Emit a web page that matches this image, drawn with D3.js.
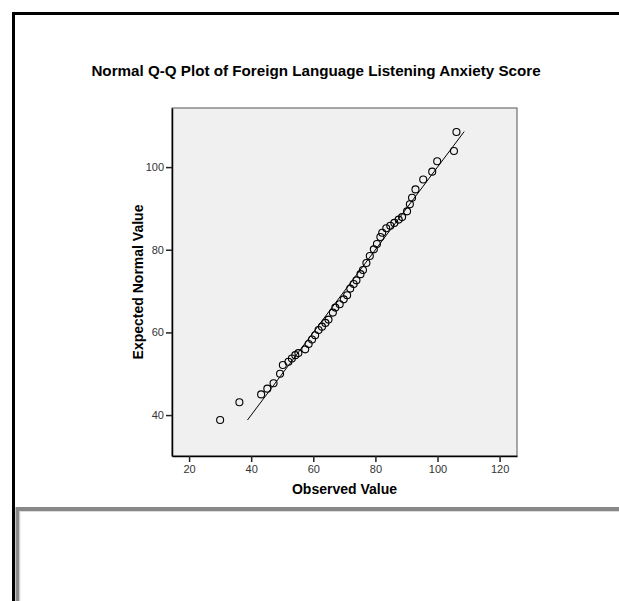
<!DOCTYPE html>
<html>
<head>
<meta charset="utf-8">
<script src="https://cdn.jsdelivr.net/npm/d3@7"></script>
<style>
    body { margin: 0; background: #fff; }
    svg { display: block; font-family: Arial, "Liberation Sans", sans-serif; }
</style>
</head>
<body>
<div id="chart"></div>
<script>
const chartTitle = "Normal Q-Q Plot of Foreign Language Listening Anxiety Score";
const xLabel = "Observed Value";
const yLabel = "Expected Normal Value";

const observedValues = [
    30.0, 36.2, 43.2, 45.2, 47.2, 49.3, 50.2, 52.0, 53.1, 54.2,
    55.2, 57.4, 58.5, 59.6, 60.6, 61.7, 62.8, 63.9, 64.9, 66.3,
    67.1, 68.5, 69.8, 70.9, 71.9, 73.0, 73.9, 75.2, 76.0, 77.1,
    78.2, 79.5, 80.5, 81.6, 82.2, 83.5, 84.8, 86.1, 87.5, 88.6,
    90.2, 91.1, 91.8, 92.9, 95.4, 98.3, 99.9, 105.3, 106.1
];
const expectedValues = [
    38.8, 43.1, 45.0, 46.4, 47.7, 50.0, 52.1, 52.9, 53.7, 54.5,
    55.0, 55.9, 57.2, 58.3, 59.3, 60.6, 61.4, 62.3, 63.1, 64.8,
    66.0, 66.8, 68.0, 69.0, 70.6, 71.7, 72.6, 74.1, 75.1, 76.8,
    78.5, 80.1, 81.4, 83.1, 84.1, 85.2, 85.8, 86.5, 87.3, 87.9,
    89.3, 91.0, 92.6, 94.6, 97.0, 98.9, 101.4, 103.9, 108.5
];
const refLine = [38.8, 108.6];

const xTicks = [20, 40, 60, 80, 100, 120];
const yTicks = [40, 60, 80, 100];

const points = observedValues.map((v, i) => ({ obs: v, exp: expectedValues[i] }));

const margin = { top: 108, left: 172 },
    width = 345,
    height = 348;

const svg = d3.select("#chart").append("svg")
    .attr("width", 619)
    .attr("height", 601);

// outer frame (black) and the lower grey panel
svg.append("path")
    .attr("d", "M13.5,601V13.5H619")
    .attr("fill", "none")
    .attr("stroke", "#000")
    .attr("stroke-width", 3);

svg.append("path")
    .attr("d", "M17.5,601V509H619")
    .attr("fill", "none")
    .attr("stroke", "#888")
    .attr("stroke-width", 4);

svg.append("path")
    .attr("d", "M20,601V511.5H619")
    .attr("fill", "none")
    .attr("stroke", "#ddd")
    .attr("stroke-width", 1);

svg.append("text")
    .attr("x", 316)
    .attr("y", 76)
    .attr("text-anchor", "middle")
    .style("font-size", "15.2px")
    .style("font-weight", "bold")
    .text(chartTitle);

const g = svg.append("g")
    .attr("transform", `translate(${margin.left},${margin.top})`);

const x = d3.scaleLinear()
    .domain([14.5, 125.6])
    .range([0, width]);

const y = d3.scaleLinear()
    .domain([30.1, 114.3])
    .range([height, 0]);

g.append("rect")
    .attr("x", 0)
    .attr("y", 0)
    .attr("width", width)
    .attr("height", height)
    .attr("fill", "#f0f0f0")
    .attr("stroke", "#555")
    .attr("stroke-width", 1);

const xAxisGroup = g.append("g")
    .attr("transform", `translate(0,${height})`)
    .call(d3.axisBottom(x).tickValues(xTicks).tickSizeInner(6).tickSizeOuter(0).tickPadding(3));

const yAxisGroup = g.append("g")
    .call(d3.axisLeft(y).tickValues(yTicks).tickSizeInner(6).tickSizeOuter(0).tickPadding(2));

[xAxisGroup, yAxisGroup].forEach(axis => {
    axis.select(".domain").attr("stroke", "#000").attr("stroke-width", 1.5);
    axis.selectAll(".tick line").attr("stroke", "#222").attr("stroke-width", 1.5);
    axis.selectAll(".tick text")
        .style("font-size", "11px")
        .style("font-family", "Arial, 'Liberation Sans', sans-serif")
        .style("fill", "#333");
});

const line = d3.line()
    .x(d => x(d))
    .y(d => y(d));

g.append("path")
    .datum(refLine)
    .attr("d", line)
    .attr("fill", "none")
    .attr("stroke", "#000")
    .attr("stroke-width", 1);

g.selectAll(".point")
    .data(points)
    .enter().append("circle")
    .attr("class", "point")
    .attr("cx", d => x(d.obs))
    .attr("cy", d => y(d.exp))
    .attr("r", 3.5)
    .attr("fill", "none")
    .attr("stroke", "#000")
    .attr("stroke-width", 1.1);

g.append("text")
    .attr("x", width / 2)
    .attr("y", height + 38)
    .attr("text-anchor", "middle")
    .style("font-size", "14px")
    .style("font-weight", "bold")
    .text(xLabel);

g.append("text")
    .attr("transform", "rotate(-90)")
    .attr("x", -height / 2)
    .attr("y", -29)
    .attr("text-anchor", "middle")
    .style("font-size", "14px")
    .style("font-weight", "bold")
    .text(yLabel);
</script>
</body>
</html>
